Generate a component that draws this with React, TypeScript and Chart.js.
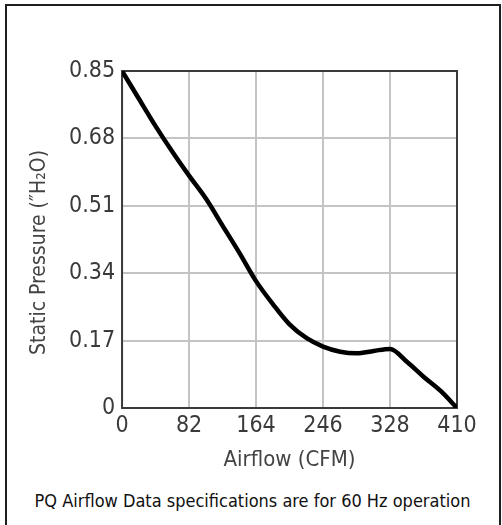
import React, { useEffect, useRef } from "react";
import { Chart, registerables } from "chart.js";

Chart.register(...registerables);

// Data
const airflow = [0, 20, 41, 62, 82, 103, 123, 144, 164, 185, 205, 226, 246, 267, 287, 308, 328, 349, 369, 390, 410];
const pressure = [0.85, 0.782, 0.711, 0.645, 0.586, 0.527, 0.46, 0.39, 0.32, 0.261, 0.211, 0.176, 0.155, 0.142, 0.138, 0.144, 0.149, 0.116, 0.079, 0.043, 0];
const xTicks = [0, 82, 164, 246, 328, 410];
const yTicks = [0, 0.17, 0.34, 0.51, 0.68, 0.85];
const yTickLabels = ["0", "0.17", "0.34", "0.51", "0.68", "0.85"];
const xTitle = "Airflow (CFM)";
const yTitle = "Static Pressure (″H₂O)";
const caption = "PQ Airflow Data specifications are for 60 Hz operation";

const FONT = "'DejaVu Sans Condensed', 'DejaVu Sans', sans-serif";

const framePlugin = {
  id: "frame",
  beforeDatasetsDraw(chart: any) {
    const { ctx, chartArea } = chart;
    ctx.save();
    ctx.strokeStyle = "#3a3a3a";
    ctx.lineWidth = 2;
    ctx.strokeRect(chartArea.left, chartArea.top, chartArea.right - chartArea.left, chartArea.bottom - chartArea.top);
    ctx.restore();
  },
};

const yTitlePlugin = {
  id: "yTitle",
  afterDraw(chart: any) {
    const { ctx, chartArea } = chart;
    ctx.save();
    ctx.translate(40, (chartArea.top + chartArea.bottom) / 2 + 13);
    ctx.rotate(-Math.PI / 2);
    ctx.font = `21px ${FONT}`;
    ctx.fillStyle = "#444444";
    ctx.textAlign = "center";
    ctx.textBaseline = "middle";
    ctx.fillText(yTitle, 0, 0);
    ctx.restore();
  },
};

export default function App() {
  const ref = useRef<HTMLCanvasElement | null>(null);

  useEffect(() => {
    if (!ref.current) return;
    const points = airflow.map((x, i) => ({ x, y: pressure[i] }));
    const chart = new Chart(ref.current, {
      type: "line",
      data: {
        datasets: [
          {
            data: points,
            borderColor: "#000000",
            borderWidth: 4.5,
            pointRadius: 0,
            fill: false,
            cubicInterpolationMode: "monotone",
          },
        ],
      },
      options: {
        responsive: false,
        animation: false,
        events: [],
        layout: { padding: { top: 71, right: 45, bottom: 9, left: 62 } },
        plugins: { legend: { display: false }, tooltip: { enabled: false }, title: { display: false } },
        scales: {
          x: {
            type: "linear",
            min: 0,
            max: 410,
            afterBuildTicks: (scale: any) => {
              scale.ticks = xTicks.map((v) => ({ value: v }));
            },
            grid: { color: "#c4c4c4", lineWidth: 2, drawTicks: false },
            border: { display: false },
            ticks: {
              padding: 4,
              color: "#3a3a3a",
              font: { family: FONT, size: 23 },
              callback: (v: any) => String(v),
              maxRotation: 0,
              autoSkip: false,
            },
            title: {
              display: true,
              text: xTitle,
              color: "#444444",
              font: { family: FONT, size: 22 },
              padding: { top: 3, bottom: 4 },
            },
          },
          y: {
            type: "linear",
            min: 0,
            max: 0.85,
            afterBuildTicks: (scale: any) => {
              scale.ticks = yTicks.map((v) => ({ value: v }));
            },
            grid: { color: "#c4c4c4", lineWidth: 2, drawTicks: false },
            border: { display: false },
            ticks: {
              padding: 7,
              color: "#3a3a3a",
              font: { family: FONT, size: 23 },
              callback: (v: any) => {
                const i = yTicks.indexOf(Number(v));
                return i >= 0 ? yTickLabels[i] : "";
              },
              autoSkip: false,
            },
          },
        },
      },
      plugins: [framePlugin, yTitlePlugin],
    } as any);
    return () => chart.destroy();
  }, []);

  return (
    <div style={{ position: "absolute", left: 0, top: 0, width: 502, height: 525, background: "#fff", overflow: "hidden" }}>
      <div
        style={{
          position: "absolute",
          left: 5,
          top: 4,
          width: 496,
          height: 521,
          boxSizing: "border-box",
          borderTop: "2px solid #1e1e1e",
          borderLeft: "2px solid #1e1e1e",
          borderRight: "2px solid #1e1e1e",
        }}
      />
      <canvas ref={ref} width={502} height={486} style={{ position: "absolute", left: 0, top: 0 }} />
      <div
        style={{
          position: "absolute",
          left: 0,
          top: 491,
          width: 505,
          textAlign: "center",
          fontFamily: FONT,
          fontSize: 18,
          lineHeight: "20px",
          color: "#111",
          whiteSpace: "nowrap",
        }}
      >
        {caption}
      </div>
    </div>
  );
}
